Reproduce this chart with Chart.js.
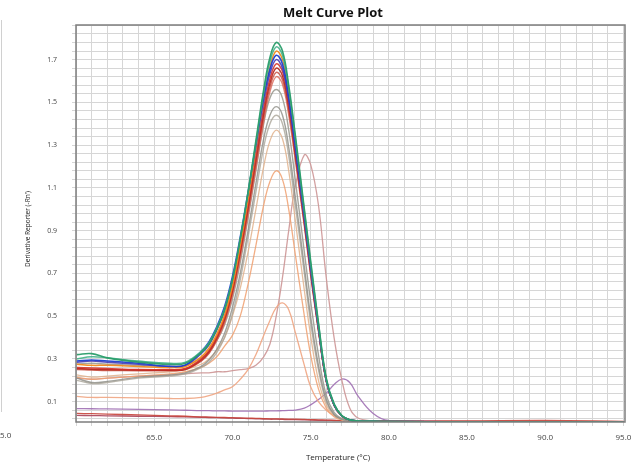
<!DOCTYPE html>
<html>
<head>
<meta charset="utf-8">
<script src="https://cdn.jsdelivr.net/npm/chart.js@4.4.1/dist/chart.umd.min.js"></script>
<style>
html,body{margin:0;padding:0;background:#fff;}
#wrap{width:639px;height:465px;position:relative;}
</style>
</head>
<body>
<div id="wrap"><canvas id="c" width="639" height="465"></canvas></div>
<script>
// Temperatures (°C) at which each curve was read
const temps = [60.05,61,62,64,66,67,68,68.5,69,69.5,70,70.5,71,71.5,72,72.4,72.8,73.2,73.6,74,74.6,75,75.5,76,76.5,77,77.5,78,79,80,85,90,95];

// Derivative reporter values per well
const green1 = [0.32,0.325,0.305,0.285,0.275,0.28, 0.33,0.37,0.44,0.53,0.67,0.86,1.08,1.32,1.56,1.71,1.78,1.74,1.58,1.36,1.0,0.76,0.47,0.21,0.09,0.035,0.015, 0.01,0.008,0.007,0.005,0.005,0.004];
const teal   = [0.30,0.31,0.305,0.29,0.28,0.285, 0.335,0.375,0.445,0.535,0.67,0.86,1.075,1.31,1.545,1.69,1.76,1.72,1.565,1.345,0.99,0.75,0.465,0.205,0.088,0.034,0.015, 0.01,0.008,0.007,0.005,0.005,0.004];
const orange = [0.275,0.27,0.27,0.265,0.26,0.265, 0.31,0.35,0.415,0.505,0.64,0.83,1.045,1.28,1.515,1.665,1.74,1.70,1.545,1.325,0.97,0.735,0.45,0.2,0.085,0.033,0.015, 0.01,0.008,0.007,0.005,0.005,0.004];
const blue   = [0.29,0.295,0.29,0.28,0.265,0.272, 0.335,0.38,0.45,0.545,0.685,0.87,1.08,1.3,1.52,1.655,1.72,1.68,1.525,1.31,0.965,0.73,0.45,0.2,0.085,0.033,0.015, 0.01,0.008,0.007,0.005,0.005,0.004];
const indigo = [0.285,0.29,0.285,0.275,0.265,0.27, 0.325,0.365,0.435,0.525,0.66,0.845,1.055,1.28,1.5,1.635,1.70,1.66,1.51,1.295,0.955,0.72,0.445,0.2,0.085,0.033,0.015, 0.01,0.008,0.007,0.005,0.005,0.004];
const red    = [0.26,0.258,0.255,0.25,0.25,0.255, 0.3,0.34,0.405,0.495,0.63,0.815,1.025,1.25,1.47,1.61,1.68,1.645,1.5,1.285,0.95,0.72,0.445,0.2,0.085,0.033,0.015, 0.01,0.008,0.007,0.005,0.005,0.004];
const darkred= [0.255,0.252,0.25,0.248,0.247,0.252, 0.295,0.333,0.397,0.485,0.618,0.8,1.005,1.23,1.45,1.59,1.66,1.625,1.48,1.27,0.94,0.71,0.44,0.198,0.084,0.033,0.015, 0.01,0.008,0.007,0.005,0.005,0.004];
const red2   = [0.25,0.248,0.246,0.245,0.245,0.25, 0.29,0.327,0.39,0.476,0.607,0.787,0.99,1.21,1.43,1.57,1.64,1.605,1.46,1.255,0.93,0.7,0.435,0.196,0.083,0.032,0.015, 0.01,0.008,0.007,0.005,0.005,0.004];
const rose   = [0.255,0.25,0.248,0.247,0.248,0.253, 0.29,0.325,0.385,0.468,0.596,0.772,0.972,1.19,1.41,1.55,1.62,1.585,1.44,1.24,0.92,0.69,0.43,0.194,0.082,0.032,0.015, 0.01,0.008,0.007,0.005,0.005,0.004];
const gray1  = [0.275,0.28,0.275,0.27,0.265,0.27, 0.305,0.335,0.385,0.46,0.58,0.75,0.96,1.18,1.4,1.52,1.56,1.52,1.37,1.15,0.8,0.57,0.32,0.13,0.05,0.02,0.012, 0.009,0.007,0.006,0.005,0.005,0.004];
const gray2  = [0.21,0.19,0.195,0.215,0.225,0.235, 0.265,0.295,0.345,0.42,0.54,0.7,0.9,1.12,1.33,1.44,1.48,1.44,1.29,1.07,0.73,0.5,0.27,0.11,0.04,0.018,0.011, 0.009,0.007,0.006,0.005,0.005,0.004];
const gray3  = [0.2,0.185,0.19,0.21,0.22,0.23, 0.26,0.285,0.33,0.4,0.51,0.67,0.87,1.08,1.29,1.4,1.44,1.4,1.25,1.03,0.7,0.47,0.25,0.1,0.04,0.017,0.01, 0.009,0.007,0.006,0.005,0.005,0.004];
const tan    = [0.225,0.215,0.22,0.23,0.24,0.25, 0.275,0.3,0.34,0.4,0.5,0.63,0.8,1.0,1.2,1.32,1.37,1.33,1.18,0.96,0.62,0.41,0.2,0.085,0.035,0.015,0.01, 0.009,0.007,0.006,0.005,0.005,0.004];
const orange2= [0.215,0.205,0.21,0.22,0.23,0.24, 0.26,0.28,0.31,0.36,0.41,0.5,0.65,0.83,1.02,1.13,1.18,1.14,1.0,0.8,0.5,0.32,0.16,0.07,0.03,0.015,0.01, 0.009,0.007,0.006,0.005,0.005,0.004];
const peach  = [0.125,0.12,0.12,0.118,0.115,0.115, 0.12,0.128,0.14,0.155,0.17,0.205,0.25,0.32,0.41,0.48,0.54,0.562,0.53,0.43,0.27,0.17,0.1,0.06,0.035,0.02,0.012, 0.01,0.008,0.007,0.005,0.005,0.004];
const rosy   = [0.21,0.205,0.21,0.22,0.225,0.23, 0.235,0.235,0.24,0.24,0.245,0.25,0.255,0.27,0.31,0.37,0.5,0.68,0.9,1.1,1.255,1.21,1.02,0.68,0.4,0.2,0.07, 0.025,0.01,0.008,0.006,0.005,0.004];
const purple = [0.068,0.067,0.066,0.064,0.062,0.06, 0.058,0.058,0.057,0.057,0.056,0.056,0.056,0.056,0.056,0.057,0.057,0.058,0.059,0.061,0.07,0.085,0.11,0.14,0.18,0.206,0.19, 0.13,0.045,0.012,0.006,0.005,0.005];
const redLow = [0.045,0.044,0.042,0.038,0.034,0.032, 0.029,0.028,0.027,0.026,0.025,0.024,0.023,0.022,0.021,0.02,0.02,0.019,0.018,0.018,0.017,0.016,0.015,0.014,0.013,0.012,0.012, 0.011,0.011,0.01,0.01,0.012,0.008];
const maroon = [0.036,0.035,0.034,0.032,0.03,0.029, 0.027,0.026,0.025,0.024,0.023,0.022,0.021,0.02,0.019,0.018,0.018,0.017,0.016,0.016,0.015,0.014,0.013,0.013,0.012,0.011,0.011, 0.01,0.009,0.008,0.008,0.007,0.006];

// Tick labels
const xTickValues = [65,70,75,80,85,90,95];
const xTickLabels = ['65.0','70.0','75.0','80.0','85.0','90.0','95.0'];
const yTickValues = [0.1,0.3,0.5,0.7,0.9,1.1,1.3,1.5,1.7];
const yTickLabels = ['0.1','0.3','0.5','0.7','0.9','1.1','1.3','1.5','1.7'];

const series = [
  {d: green1,  c: 'rgba(42,157,106,0.95)', w: 1.6},
  {d: teal,    c: 'rgba(69,179,138,0.9)',  w: 1.5},
  {d: blue,    c: 'rgba(30,64,208,0.95)',  w: 1.6},
  {d: orange,  c: 'rgba(242,138,30,0.95)', w: 1.5},
  {d: indigo,  c: 'rgba(74,60,181,0.9)',   w: 1.5},
  {d: red,     c: 'rgba(214,52,44,0.9)',   w: 1.5},
  {d: darkred, c: 'rgba(179,38,30,0.9)',   w: 1.5},
  {d: red2,    c: 'rgba(201,85,69,0.85)',  w: 1.4},
  {d: rose,    c: 'rgba(220,112,98,0.85)', w: 1.4},
  {d: gray1,   c: 'rgba(150,150,140,0.85)',w: 1.4},
  {d: gray2,   c: 'rgba(140,140,132,0.8)', w: 1.4},
  {d: gray3,   c: 'rgba(170,165,152,0.8)', w: 1.4},
  {d: tan,     c: 'rgba(225,178,140,0.85)',w: 1.3},
  {d: orange2, c: 'rgba(240,160,112,0.85)',w: 1.3},
  {d: peach,   c: 'rgba(240,165,130,0.9)', w: 1.3},
  {d: rosy,    c: 'rgba(205,150,150,0.9)', w: 1.3},
  {d: purple,  c: 'rgba(160,112,180,0.9)', w: 1.3},
  {d: redLow,  c: 'rgba(200,68,58,0.9)',   w: 1.3},
  {d: maroon,  c: 'rgba(168,66,88,0.9)',   w: 1.3}
];

const datasets = series.map(s => ({
  data: temps.map((t, i) => ({x: t, y: s.d[i]})),
  borderColor: s.c,
  borderWidth: s.w,
  pointRadius: 0,
  tension: 0.4,
  fill: false
}));

const xGrid = [];
for (let v = 60; v <= 95; v++) xGrid.push(v);
const yGrid = [];
for (let k = 0; k <= 46; k++) yGrid.push(Math.round((0.02 + 0.04 * k) * 1000) / 1000);

const decor = {
  id: 'decor',
  beforeDraw(chart) {
    const ctx = chart.ctx;
    ctx.save();
    ctx.fillStyle = '#fff';
    ctx.fillRect(0, 0, chart.width, chart.height);
    ctx.restore();
  },
  afterDraw(chart) {
    const ctx = chart.ctx, a = chart.chartArea;
    ctx.save();
    ctx.strokeStyle = '#7d7d7d';
    ctx.lineWidth = 1.5;
    ctx.strokeRect(a.left, a.top, a.right - a.left, a.bottom - a.top);
    ctx.strokeStyle = '#d0d0d0';
    ctx.lineWidth = 1;
    ctx.beginPath(); ctx.moveTo(1.5, 20); ctx.lineTo(1.5, 412); ctx.stroke();
    ctx.fillStyle = '#111';
    ctx.textAlign = 'center';
    ctx.textBaseline = 'middle';
    ctx.font = 'bold 13px "Open Sans", "DejaVu Sans", sans-serif';
    ctx.fillText('Melt Curve Plot', 333, 13);
    ctx.fillStyle = '#222';
    ctx.font = '8px "Open Sans", "DejaVu Sans", sans-serif';
    ctx.fillText('Temperature (°C)', 338, 458);
    ctx.save();
    ctx.translate(28, 229);
    ctx.rotate(-Math.PI / 2);
    ctx.font = '6.5px "Open Sans", "DejaVu Sans", sans-serif';
    ctx.fillText("Derivative Reporter (-Rn')", 0, 0);
    ctx.restore();
    ctx.fillStyle = '#444';
    ctx.textAlign = 'left';
    ctx.font = '8px "Open Sans", "DejaVu Sans", sans-serif';
    ctx.fillText('5.0', 0, 436);
    ctx.restore();
  }
};

new Chart(document.getElementById('c'), {
  type: 'line',
  data: {datasets},
  plugins: [decor],
  options: {
    responsive: false,
    animation: false,
    events: [],
    layout: {padding: {top: 25, right: 14, left: 0, bottom: 0}},
    plugins: {legend: {display: false}, title: {display: false}, tooltip: {enabled: false}},
    scales: {
      x: {
        type: 'linear',
        min: 60, max: 95.1,
        afterBuildTicks: s => { s.ticks = xGrid.map(v => ({value: v})); },
        afterFit: s => { s.height = 43; },
        border: {display: false},
        grid: {color: '#d6d6d6', lineWidth: 1, tickLength: 4, drawTicks: true},
        ticks: {
          autoSkip: false, maxRotation: 0, padding: 7,
          color: '#444',
          font: {size: 8, family: '"Open Sans", "DejaVu Sans", sans-serif'},
          callback: v => { const i = xTickValues.indexOf(v); return i >= 0 ? xTickLabels[i] : ''; }
        }
      },
      y: {
        type: 'linear',
        min: 0.005, max: 1.862,
        afterBuildTicks: s => { s.ticks = yGrid.map(v => ({value: v})); },
        afterFit: s => { s.width = 76; },
        border: {display: false},
        grid: {color: '#d6d6d6', lineWidth: 1, tickLength: 4, drawTicks: true},
        ticks: {
          autoSkip: false, padding: 15,
          color: '#444',
          font: {size: 7, family: '"Open Sans", "DejaVu Sans", sans-serif'},
          callback: v => { const i = yTickValues.findIndex(t => Math.abs(t - v) < 1e-6); return i >= 0 ? yTickLabels[i] : ''; }
        }
      }
    }
  }
});
</script>
</body>
</html>
